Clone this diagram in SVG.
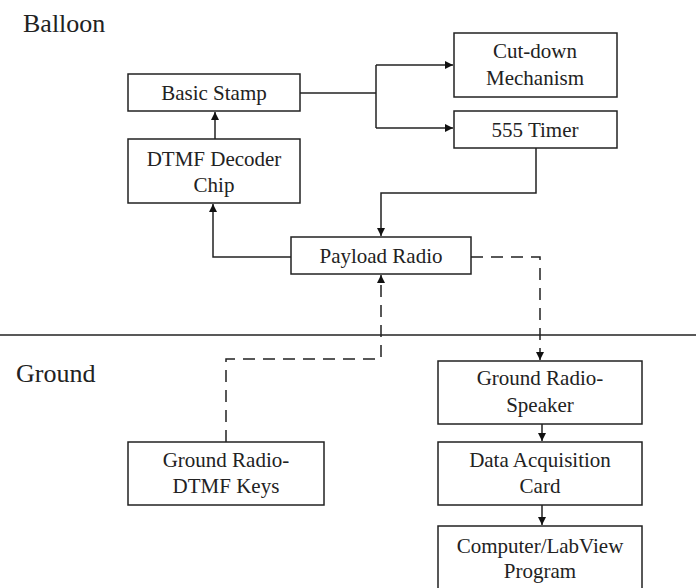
<svg xmlns="http://www.w3.org/2000/svg" width="696" height="588" viewBox="0 0 696 588">
<defs>
<style>
.box{fill:#fff;stroke:#222;stroke-width:1.5}
.t{font-size:21px;fill:#222;text-anchor:middle}
.lbl{font-size:26px;fill:#222}
.c{fill:none;stroke:#222;stroke-width:1.5}
.d{fill:none;stroke:#222;stroke-width:1.5;stroke-dasharray:12 8}
</style>
<marker id="ah" viewBox="0 0 10 10" refX="10" refY="5" markerWidth="8" markerHeight="8" markerUnits="userSpaceOnUse" orient="auto">
<path d="M0,0 L10,5 L0,10 z" fill="#111"/>
</marker>
</defs>
<rect width="696" height="588" fill="#fff"/>
<g font-family="Liberation Serif, Times New Roman, DejaVu Serif, serif">
<text class="lbl" x="23" y="32">Balloon</text>
<text class="lbl" x="16" y="382">Ground</text>
<line x1="0" y1="335" x2="696" y2="335" stroke="#222" stroke-width="1.5"/>
<g id="connectors">
<path class="c" d="M215,139 V112" marker-end="url(#ah)"/>
<path class="c" d="M300,93 H376"/>
<path class="c" d="M376,65 V128"/>
<path class="c" d="M376,65 H453" marker-end="url(#ah)"/>
<path class="c" d="M376,128 H453" marker-end="url(#ah)"/>
<path class="c" d="M536,148 V193 H381 V236" marker-end="url(#ah)"/>
<path class="c" d="M291,257 H213 V204" marker-end="url(#ah)"/>
<path class="d" d="M471,257 H540 V360" marker-end="url(#ah)"/>
<path class="d" d="M226,442 V359 H381 V275" marker-end="url(#ah)"/>
<path class="c" d="M542,424 V441" marker-end="url(#ah)"/>
<path class="c" d="M542,505 V525" marker-end="url(#ah)"/>
</g>
<g id="basic-stamp"><rect class="box" x="128" y="74" width="172" height="37"/><text class="t" x="214" y="100">Basic Stamp</text></g>
<g id="dtmf-decoder"><rect class="box" x="128" y="139" width="172" height="64"/><text class="t" x="214" y="166">DTMF Decoder</text><text class="t" x="214" y="192">Chip</text></g>
<g id="cut-down"><rect class="box" x="454" y="33" width="163" height="64"/><text class="t" x="535" y="58">Cut-down</text><text class="t" x="535" y="85">Mechanism</text></g>
<g id="timer"><rect class="box" x="454" y="111" width="163" height="37"/><text class="t" x="535" y="137">555 Timer</text></g>
<g id="payload-radio"><rect class="box" x="291" y="237" width="180" height="37"/><text class="t" x="381" y="263">Payload Radio</text></g>
<g id="ground-dtmf"><rect class="box" x="128" y="442" width="196" height="63"/><text class="t" x="226" y="467">Ground Radio-</text><text class="t" x="226" y="493">DTMF Keys</text></g>
<g id="ground-speaker"><rect class="box" x="438" y="361" width="204" height="63"/><text class="t" x="540" y="385">Ground Radio-</text><text class="t" x="540" y="412">Speaker</text></g>
<g id="daq"><rect class="box" x="438" y="442" width="204" height="63"/><text class="t" x="540" y="467">Data Acquisition</text><text class="t" x="540" y="493">Card</text></g>
<g id="computer"><rect class="box" x="438" y="526" width="204" height="70"/><text class="t" x="540" y="553">Computer/LabView</text><text class="t" x="540" y="578">Program</text></g>
</g>
</svg>
